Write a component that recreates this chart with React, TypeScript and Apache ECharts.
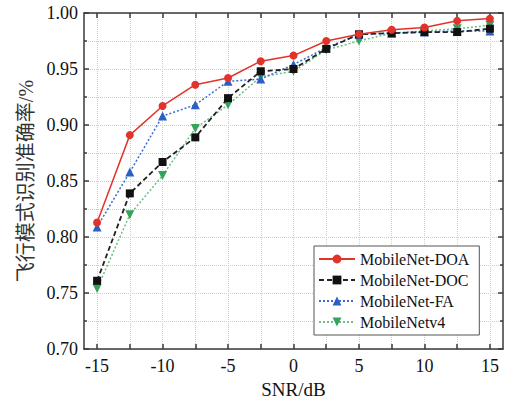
import React, { useEffect, useRef } from "react";
import * as echarts from "echarts";

const snr = [-15, -12.5, -10, -7.5, -5, -2.5, 0, 2.5, 5, 7.5, 10, 12.5, 15];
const doa = [0.813, 0.891, 0.917, 0.936, 0.942, 0.957, 0.962, 0.975, 0.981, 0.985, 0.987, 0.993, 0.995];
const doc = [0.761, 0.839, 0.867, 0.889, 0.924, 0.948, 0.950, 0.968, 0.981, 0.982, 0.983, 0.983, 0.986];
const fa = [0.809, 0.858, 0.908, 0.918, 0.939, 0.941, 0.954, 0.969, 0.981, 0.982, 0.983, 0.984, 0.984];
const v4 = [0.754, 0.820, 0.855, 0.897, 0.918, 0.943, 0.948, 0.967, 0.975, 0.982, 0.984, 0.986, 0.989];
const xLabelValues = [-15, -10, -5, 0, 5, 10, 15];
const xTickValues = [-15, -12.5, -10, -7.5, -5, -2.5, 0, 2.5, 5, 7.5, 10, 12.5, 15];
const seriesNames = ["MobileNet-DOA", "MobileNet-DOC", "MobileNet-FA", "MobileNetv4"];

const SERIF = '"Liberation Serif", "Times New Roman", "Noto Sans CJK SC", serif';
const FRAME = "#3a3a3a";
const GRID = "#cccccc";

export default function App() {
  const ref = useRef<HTMLDivElement>(null);
  useEffect(() => {
    if (!ref.current) return;
    const chart = echarts.init(ref.current, null, { renderer: "svg" });
    const pts = (ys: number[]) => snr.map((x, i) => [x, ys[i]]);
    const baseX = {
      type: "value" as const,
      min: -16,
      max: 16,
    };
    const baseY = {
      type: "value" as const,
      min: 0.7,
      max: 1.0,
      interval: 0.05,
    };
    chart.setOption({
      animation: false,
      backgroundColor: "#fff",
      grid: { left: 84, right: 6, top: 13, bottom: 51 },
      xAxis: [
        {
          ...baseX,
          position: "bottom",
          name: "SNR/dB",
          nameLocation: "middle",
          nameGap: 27,
          nameTextStyle: { fontFamily: SERIF, fontSize: 19, color: "#111" },
          axisLine: { show: true, onZero: false, lineStyle: { color: FRAME, width: 1.5 } },
          axisTick: { show: true, inside: true, length: 5, customValues: xTickValues, lineStyle: { color: FRAME, width: 1.5 } },
          axisLabel: { customValues: xLabelValues, fontFamily: SERIF, fontSize: 18, color: "#111", margin: 8 },
          splitLine: { show: true, lineStyle: { color: GRID, type: "dotted", width: 1 } },
        },
        {
          ...baseX,
          position: "top",
          axisLine: { show: true, onZero: false, lineStyle: { color: FRAME, width: 1.5 } },
          axisTick: { show: true, inside: true, length: 5, customValues: xTickValues, lineStyle: { color: FRAME, width: 1.5 } },
          axisLabel: { show: false },
          splitLine: { show: false },
        },
      ],
      yAxis: [
        {
          ...baseY,
          position: "left",
          name: "飞行模式识别准确率/%",
          nameLocation: "middle",
          nameGap: 45,
          nameTextStyle: { fontFamily: SERIF, fontSize: 20, color: "#333" },
          axisLine: { show: true, onZero: false, lineStyle: { color: FRAME, width: 1.5 } },
          axisTick: { show: true, inside: true, length: 5, lineStyle: { color: FRAME, width: 1.5 } },
          minorTick: { show: true, splitNumber: 2, length: 3, lineStyle: { color: FRAME, width: 1.5 } },
          axisLabel: { fontFamily: SERIF, fontSize: 18, color: "#111", margin: 6, formatter: (v: number) => v.toFixed(2) },
          splitLine: { show: true, lineStyle: { color: GRID, type: "dotted", width: 1 } },
          minorSplitLine: { show: true, lineStyle: { color: GRID, type: "dotted", width: 1 } },
        },
        {
          ...baseY,
          position: "right",
          axisLine: { show: true, onZero: false, lineStyle: { color: FRAME, width: 1.5 } },
          axisTick: { show: true, inside: true, length: 5, lineStyle: { color: FRAME, width: 1.5 } },
          minorTick: { show: true, splitNumber: 2, length: 3, lineStyle: { color: FRAME, width: 1.5 } },
          axisLabel: { show: false },
          splitLine: { show: false },
        },
      ],
      legend: {
        orient: "vertical",
        left: 314,
        top: 246,
        data: seriesNames,
        itemWidth: 36,
        itemHeight: 11,
        itemGap: 5,
        padding: [5, 10, 5, 4],
        backgroundColor: "#fff",
        borderColor: "#555",
        borderWidth: 1,
        borderRadius: 0,
        textStyle: { fontFamily: SERIF, fontSize: 16, color: "#111" },
      },
      series: [
        {
          name: seriesNames[0],
          type: "line",
          data: pts(doa),
          symbol: "circle",
          symbolSize: 8,
          itemStyle: { color: "#e2332a" },
          lineStyle: { color: "#e2332a", width: 1.5, type: "solid" },
          z: 5,
        },
        {
          name: seriesNames[1],
          type: "line",
          data: pts(doc),
          symbol: "rect",
          symbolSize: 8,
          itemStyle: { color: "#111" },
          lineStyle: { color: "#222", width: 1.8, type: [5, 3] },
          z: 4,
        },
        {
          name: seriesNames[2],
          type: "line",
          data: pts(fa),
          symbol: "triangle",
          symbolSize: 9,
          itemStyle: { color: "#2a5fc6" },
          lineStyle: { color: "#3a6ccc", width: 1.5, type: [2, 2] },
          z: 3,
        },
        {
          name: seriesNames[3],
          type: "line",
          data: pts(v4),
          symbol: "triangle",
          symbolRotate: 180,
          symbolSize: 9,
          itemStyle: { color: "#36a25a" },
          lineStyle: { color: "#6cbf80", width: 1.5, type: [2, 2] },
          z: 2,
        },
      ],
    });
    return () => chart.dispose();
  }, []);
  return <div ref={ref} style={{ width: 509, height: 404, position: "absolute", left: 0, top: 0 }} />;
}
